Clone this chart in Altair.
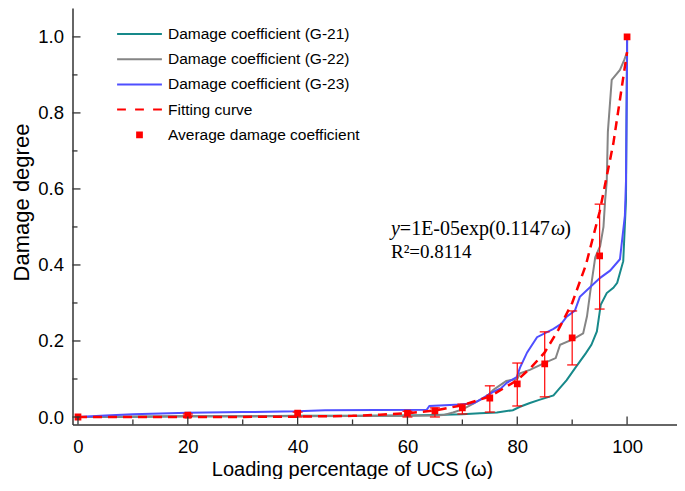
import altair as alt
import pandas as pd

# ---------------- data ----------------
g21_x = [0, 10, 20, 30, 40, 50, 60, 65, 70, 73.2, 76.3, 79.2, 80.5, 82.3, 84, 86.6, 87.5, 89, 90.5, 92.5,
         93.5, 94.5, 95.2, 96.3, 97.5, 98.2, 99.3, 99.8, 100]
g21_y = [0, 0.001, 0.002, 0.002, 0.003, 0.003, 0.004, 0.005, 0.007, 0.01, 0.012, 0.018, 0.027, 0.037, 0.045,
         0.057, 0.072, 0.097, 0.128, 0.168, 0.19, 0.225, 0.295, 0.326, 0.34, 0.353, 0.41, 0.57, 1.0]

g22_x = [0, 20, 40, 60, 65, 66.5, 68.3, 70, 70.8, 72, 73.2, 74.5, 75.6, 76.5, 78, 80, 80.5, 82.3, 85.4, 87,
         87.8, 90.2, 92, 92.7, 93.3, 94.2, 95.1, 95.7, 96, 96.3, 96.5, 97.2, 98.7, 99.5, 100, 100]
g22_y = [0, 0.002, 0.002, 0.003, 0.004, 0.005, 0.012, 0.02, 0.026, 0.035, 0.045, 0.055, 0.071, 0.08, 0.095,
         0.1, 0.115, 0.124, 0.145, 0.155, 0.19, 0.205, 0.22, 0.265, 0.33, 0.42, 0.45, 0.5, 0.57, 0.62,
         0.75, 0.887, 0.913, 0.94, 0.96, 1.0]

g23_x = [0, 5, 10, 20, 30, 40, 45, 63.5, 64, 69.6, 72, 73.2, 75.6, 77, 78.1, 79.9, 80.5, 81.8, 83.6, 86.6,
         88, 89, 90.5, 91.4, 93.3, 95.1, 96.9, 98.7, 99.6, 99.8, 100, 100]
g23_y = [0, 0.004, 0.007, 0.011, 0.013, 0.015, 0.018, 0.019, 0.029, 0.033, 0.036, 0.045, 0.066, 0.075, 0.09,
         0.105, 0.13, 0.17, 0.21, 0.232, 0.245, 0.264, 0.28, 0.316, 0.342, 0.366, 0.385, 0.415, 0.53, 0.62,
         0.95, 1.0]

fit_x = [0, 10, 20, 30, 40, 50, 55, 60, 65, 70, 75, 80, 82.5, 85, 87.5, 90, 92.5, 95, 97.5, 100]
fit_y = [0, 0, 0, 0.0003, 0.001, 0.003, 0.006, 0.01, 0.017, 0.031, 0.054, 0.097, 0.13, 0.17, 0.23,
         0.30, 0.40, 0.54, 0.72, 0.96]

avg_x = [0, 20, 40, 60, 65, 70, 75, 80, 85, 90, 95, 100]
avg_y = [0, 0.005, 0.01, 0.01, 0.016, 0.024, 0.05, 0.087, 0.14, 0.208, 0.424, 1.0]

err_x = [20, 40, 60, 65, 70, 75, 80, 85, 90, 95]
err_lo = [0.002, 0.0, 0.0, 0.0, 0.008, 0.013, 0.029, 0.053, 0.137, 0.284]
err_hi = [0.008, 0.013, 0.015, 0.024, 0.034, 0.082, 0.142, 0.224, 0.279, 0.56]

series_names = ["Damage coefficient (G-21)", "Damage coefficient (G-22)", "Damage coefficient (G-23)",
                "Fitting curve", "Average damage coefficient"]
series_colors = ["#17898a", "#858585", "#4f4fff", "#ff0000", "#ff0000"]

x_major = [0, 20, 40, 60, 80, 100]
x_minor = [10, 30, 50, 70, 90]
y_major = [0, 0.2, 0.4, 0.6, 0.8, 1.0]
y_minor = [0.1, 0.3, 0.5, 0.7, 0.9]

eq_pos = {"x": [57.0], "y": [0.479]}
r2_pos = {"x": [57.0], "y": [0.418]}

# ---------------- layout ----------------
W, H = 604, 416.5
xs = alt.Scale(domain=[-1, 109.0], nice=False, zero=False)
ys = alt.Scale(domain=[-0.0197, 1.076], nice=False, zero=False)
AX = "#333333"
SANS = "Liberation Sans"
SERIF = "Liberation Serif"

x_axis = alt.Axis(values=x_major, format="d", title="Loading percentage of UCS (ω)",
                  titleX=279.5, titleY=50.5, titleBaseline="alphabetic")
y_axis = alt.Axis(values=y_major, format=".1f", title="Damage degree",
                  titleY=194, titlePadding=4)


def X(field):
    return alt.X(field, scale=xs, axis=x_axis)


def Y(field):
    return alt.Y(field, scale=ys, axis=y_axis)


def curve(xv, yv, color, width, dash=None):
    df = pd.DataFrame({"x": xv, "y": yv, "i": list(range(len(xv)))})
    kw = dict(color=color, strokeWidth=width, clip=True)
    if dash:
        kw["strokeDash"] = dash
    return alt.Chart(df).mark_line(**kw).encode(
        x=X("x:Q"), y=Y("y:Q"), order=alt.Order("i:Q"))


l21 = curve(g21_x, g21_y, series_colors[0], 2)
l22 = curve(g22_x, g22_y, series_colors[1], 2)
l23 = curve(g23_x, g23_y, series_colors[2], 2)
lfit = curve(fit_x, fit_y, series_colors[3], 2.5, dash=[9, 6])

err_df = pd.DataFrame({"x": err_x, "lo": err_lo, "hi": err_hi})
err_rule = alt.Chart(err_df).mark_rule(color="#ff0000", strokeWidth=1.2).encode(
    x=X("x:Q"), y=Y("lo:Q"), y2="hi:Q")
cap_lo = alt.Chart(err_df).mark_tick(color="#ff0000", orient="horizontal", size=10,
                                     thickness=1.2, opacity=1).encode(x=X("x:Q"), y=Y("lo:Q"))
cap_hi = alt.Chart(err_df).mark_tick(color="#ff0000", orient="horizontal", size=10,
                                     thickness=1.2, opacity=1).encode(x=X("x:Q"), y=Y("hi:Q"))

# legend symbols: paths in unit space (scaled by sqrt(size)/2 = 8 px)
line_path = "M-2.8,0H2.8"
dash_path = "M-2.8,0H-1.7M-0.55,0H0.55M1.7,0H2.8"
square_path = "M-0.42,-0.3H0.42M-0.42,-0.15H0.42M-0.42,0H0.42M-0.42,0.15H0.42M-0.42,0.3H0.42"
shape_range = [line_path, line_path, line_path, dash_path, square_path]

leg = alt.Legend(orient="none", legendX=58, legendY=17, title=None, padding=0,
                 labelFont=SANS, labelFontSize=15.5, labelColor="black", labelOffset=19.5,
                 labelLimit=400, rowPadding=7.2, symbolSize=256, symbolStrokeWidth=2,
                 symbolOpacity=1)

avg_df = pd.DataFrame({"x": avg_x, "y": avg_y, "series": [series_names[4]] * len(avg_x)})
pts = alt.Chart(avg_df).mark_point(filled=False, size=256, strokeWidth=2, opacity=1).encode(
    x=X("x:Q"), y=Y("y:Q"),
    color=alt.Color("series:N", scale=alt.Scale(domain=series_names, range=series_colors), legend=leg),
    shape=alt.Shape("series:N", scale=alt.Scale(domain=series_names, range=shape_range), legend=leg),
)


# inward ticks
def xticks(vals, length):
    return alt.Chart(pd.DataFrame({"v": vals})).mark_rule(color=AX, strokeWidth=1.3).encode(
        x=X("v:Q"), y=alt.value(H), y2=alt.value(H - length))


def yticks(vals, length):
    return alt.Chart(pd.DataFrame({"v": vals})).mark_rule(color=AX, strokeWidth=1.3).encode(
        y=Y("v:Q"), x=alt.value(0), x2=alt.value(length))


# equation annotation
def eq_piece(pos, txt, dx, style="normal", size=20):
    return alt.Chart(pd.DataFrame(pos)).mark_text(
        text=txt, align="left", baseline="alphabetic", dx=dx, font=SERIF, fontSize=size,
        fontStyle=style, color="black").encode(x=X("x:Q"), y=Y("y:Q"))


eq = (eq_piece(eq_pos, "y", 0, "italic") + eq_piece(eq_pos, "=1E-05exp(0.1147", 8.9)
      + eq_piece(eq_pos, "ω", 160, "italic") + eq_piece(eq_pos, ")", 173.4))
r2 = eq_piece(r2_pos, "R²=0.8114", 0, size=19)

chart = alt.layer(
    l21, l22, l23, lfit, err_rule, cap_lo, cap_hi, pts,
    xticks(x_major, 8), xticks(x_minor, 5), yticks(y_major, 8), yticks(y_minor, 5),
    eq, r2,
).properties(
    width=W, height=H,
    autosize=alt.AutoSizeParams(type="none"),
    padding={"left": 64.5, "top": 0, "right": 0, "bottom": 54},
).configure_view(strokeWidth=0).configure_axis(
    grid=False, tickSize=0, domainColor=AX, domainWidth=1.5,
    labelFont=SANS, labelFontSize=18.5, labelColor="black",
    titleFont=SANS, titleFontSize=20, titleColor="black", titleFontWeight="normal",
).configure_axisX(labelPadding=13).configure_axisY(labelPadding=9, titleFontSize=22)

chart.save("out.html", embed_options={"renderer": "svg", "actions": False})
